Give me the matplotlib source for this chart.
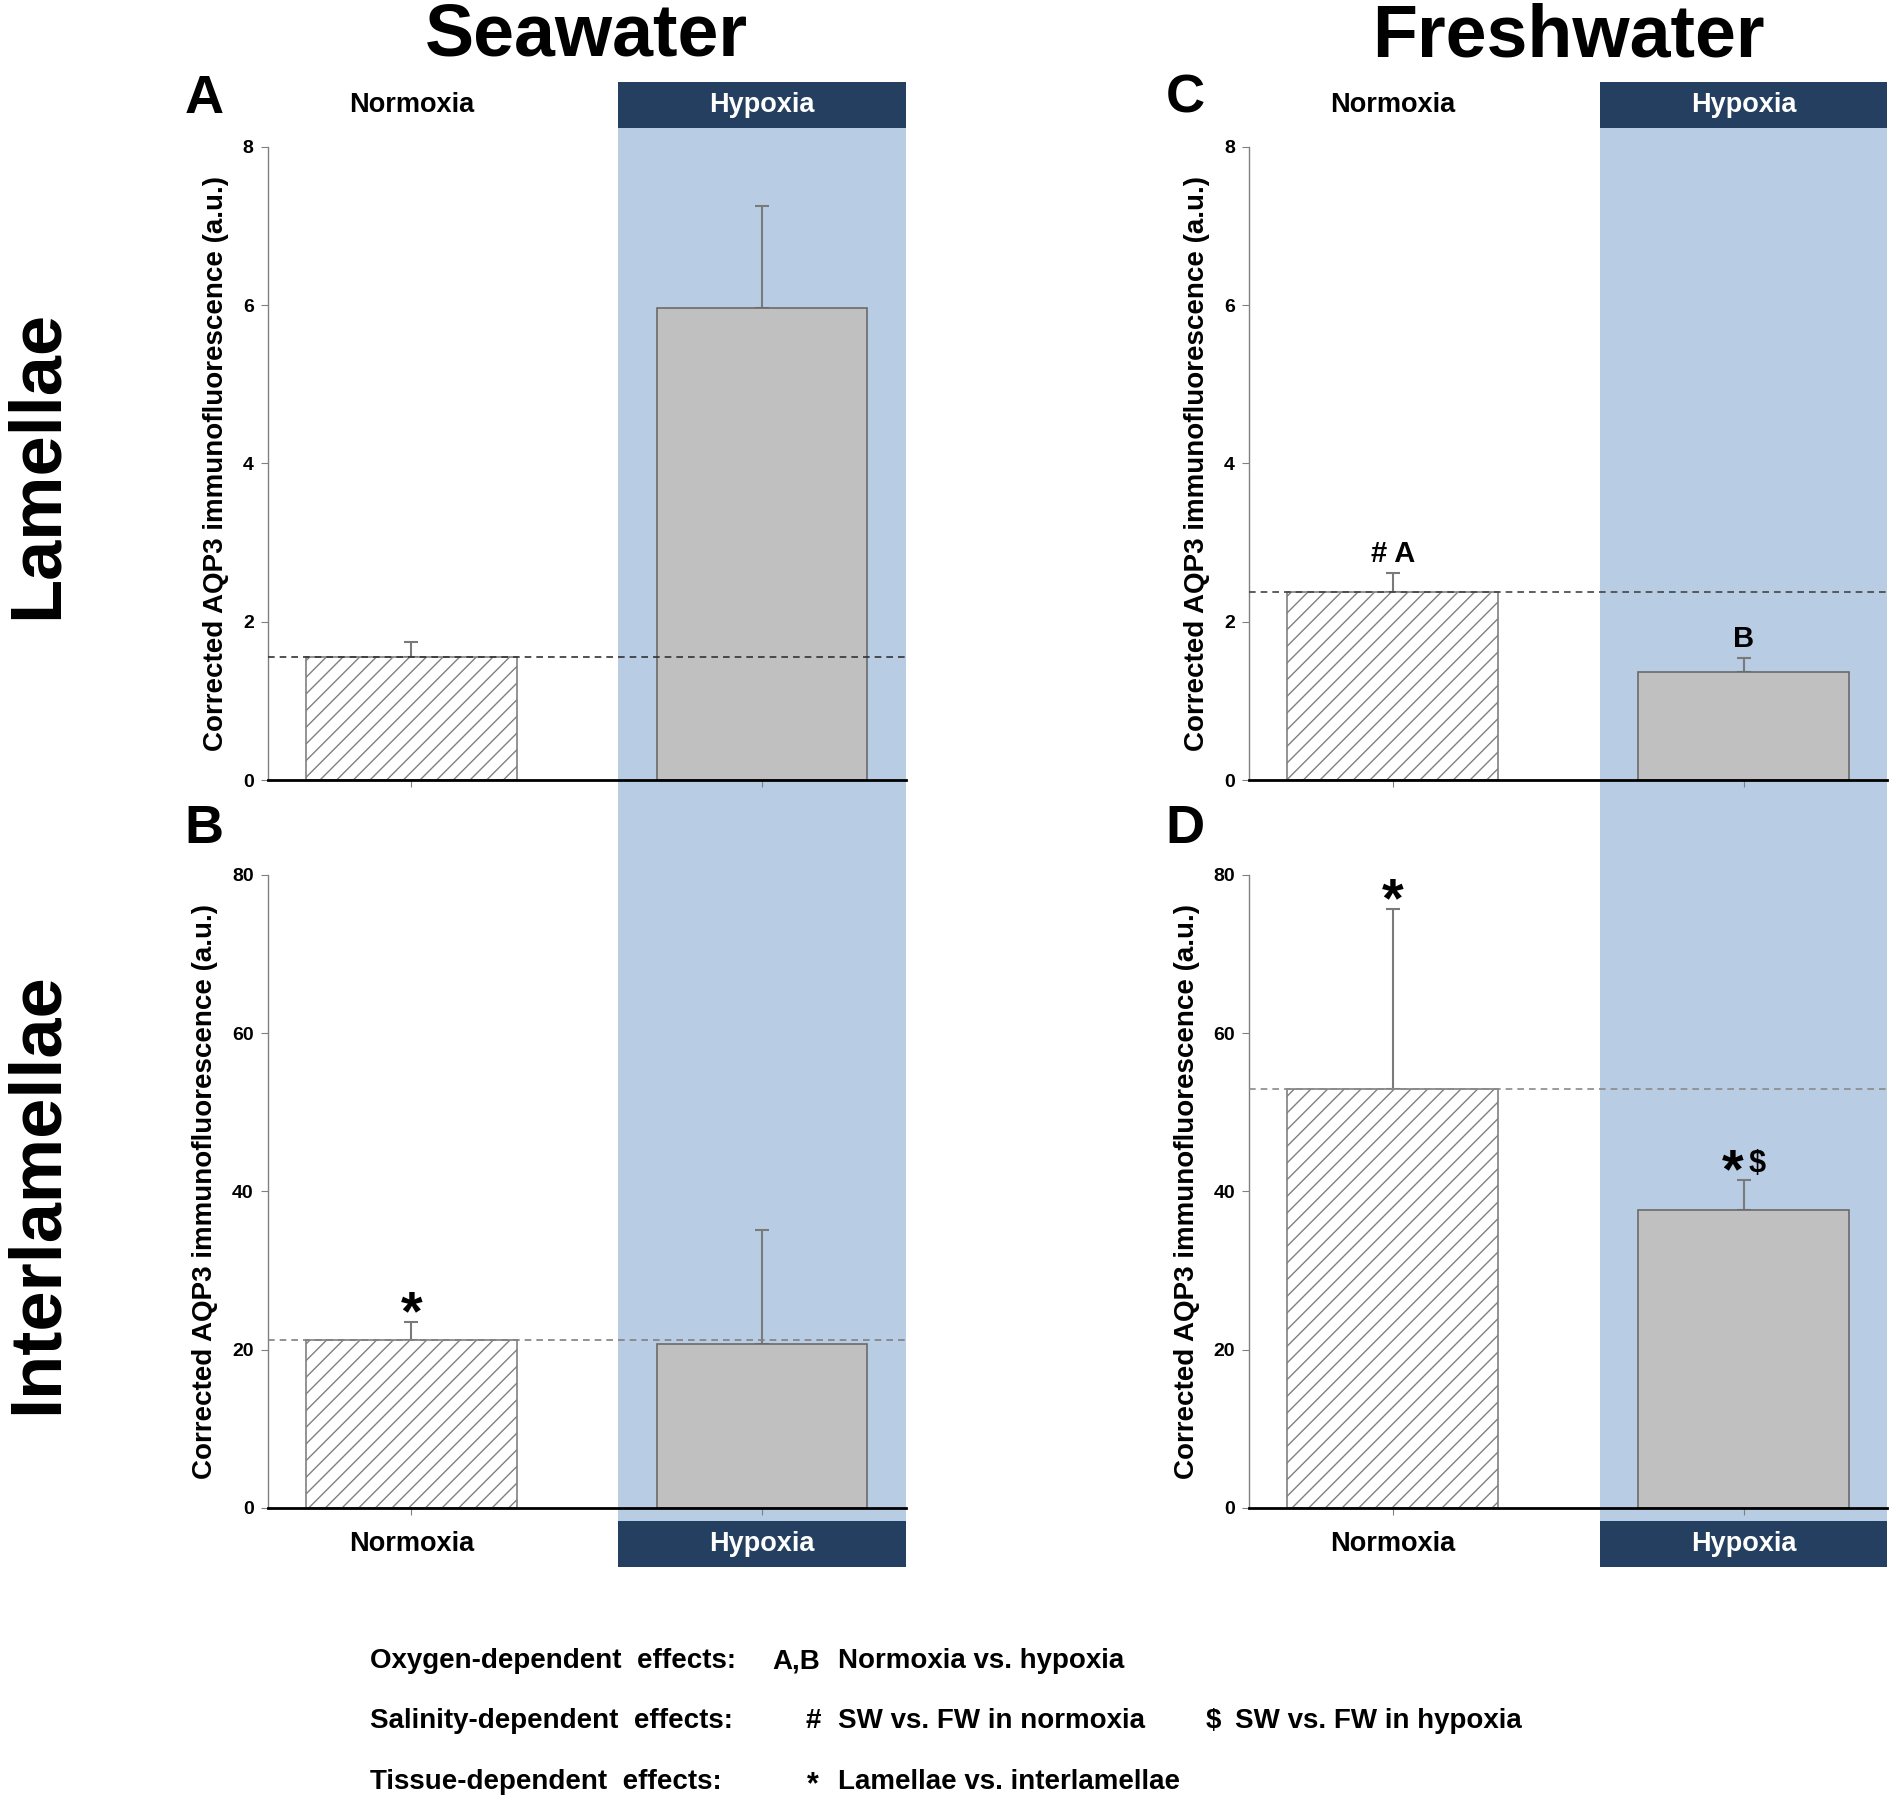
import numpy as np
import matplotlib.pyplot as plt
from matplotlib.patches import Rectangle
from matplotlib.transforms import blended_transform_factory

plt.rcParams['font.family'] = ['Liberation Sans', 'DejaVu Sans']
plt.rcParams['hatch.linewidth'] = 1.0

# data (mean and upper error)
conditions = ["Normoxia", "Hypoxia"]
sw_lam = [1.55, 5.97]
sw_lam_err = [0.20, 1.28]
fw_lam = [2.37, 1.36]
fw_lam_err = [0.24, 0.18]
sw_inter = [21.2, 20.7]
sw_inter_err = [2.3, 14.4]
fw_inter = [52.9, 37.6]
fw_inter_err = [22.8, 3.8]

lam_ticks = [0, 2, 4, 6, 8]
inter_ticks = [0, 20, 40, 60, 80]

# significance marks above each bar
sig_A = ["", ""]
sig_B = ["*", ""]
sig_C = ["# A", "B"]
sig_D = ["*", "* $"]

ylab = "Corrected AQP3 immunofluorescence (a.u.)"
shade_col = "#b8cce4"
head_col = "#243f60"
xmin, xmax, shade_x0 = -0.41, 1.41, 0.59

fig = plt.figure(figsize=(18.9, 18.01), dpi=100)

left_cols = [0.1416, 0.6608]
width = 0.3378
bottoms = [0.5669, 0.1627]
height = 0.3515


def put_star(ax, x, y, dx=0):
    # big asterisk, the glyph sits high so the baseline goes below the cap
    ax.annotate("*", (x, y), xytext=(dx, -5), textcoords='offset points',
                ha='center', va='baseline', fontsize=40, fontweight='bold')


def draw_panel(ax, means, errs, ticks, sig, dash_col):
    x = np.arange(len(means))
    ax.set_facecolor('none')
    ax.bar(x[0], means[0], width=0.6, color='white', edgecolor='#808080',
           hatch='//', linewidth=1.2, zorder=2)
    ax.bar(x[1], means[1], width=0.6, color='#c0c0c0', edgecolor='#6a6a6a',
           linewidth=1.2, zorder=2)
    ax.errorbar(x, means, yerr=[np.zeros(len(errs)), errs], fmt='none',
                ecolor='#7a7a7a', elinewidth=1.5, capsize=5, capthick=1.5, zorder=1)
    ax.axhline(means[0], color=dash_col, ls=(0, (4, 3)), lw=1.2, zorder=3)
    for xi, m, e, s in zip(x, means, errs, sig):
        top = m + e
        if s == "*":
            put_star(ax, xi, top)
        elif s == "* $":
            put_star(ax, xi, top, dx=-8)
            ax.annotate("$", (xi, top), xytext=(9.5, 6), textcoords='offset points',
                        ha='center', va='baseline', fontsize=22, fontweight='bold')
        elif s:
            ax.annotate(s, (xi, top), xytext=(0, 8), textcoords='offset points',
                        ha='center', va='baseline', fontsize=21, fontweight='bold')
    ax.set_xlim(xmin, xmax)
    ax.set_ylim(ticks[0], ticks[-1])
    ax.set_yticks(ticks)
    ax.set_xticks(x)
    ax.set_xticklabels([])
    for s in ['top', 'right']:
        ax.spines[s].set_visible(False)
    ax.spines['left'].set_color('#808080')
    ax.spines['left'].set_linewidth(1.0)
    ax.spines['bottom'].set_color('black')
    ax.spines['bottom'].set_linewidth(2.0)
    ax.tick_params(axis='y', length=5, color='#808080', labelsize=14, pad=5)
    ax.tick_params(axis='x', length=5, color='#808080')
    for lab in ax.get_yticklabels():
        lab.set_fontweight('bold')
    ax.set_ylabel(ylab, fontsize=20, fontweight='bold', labelpad=10)


panels = [
    (0, 0, sw_lam, sw_lam_err, lam_ticks, sig_A, "A", "#333333"),
    (0, 1, sw_inter, sw_inter_err, inter_ticks, sig_B, "B", "#808080"),
    (1, 0, fw_lam, fw_lam_err, lam_ticks, sig_C, "C", "#444444"),
    (1, 1, fw_inter, fw_inter_err, inter_ticks, sig_D, "D", "#8a8a8a"),
]

axes = {}
for col, row, means, errs, ticks, sig, letter, dash_col in panels:
    ax = fig.add_axes([left_cols[col], bottoms[row], width, height])
    draw_panel(ax, means, errs, ticks, sig, dash_col)
    axes[(col, row)] = ax
    fig.text(left_cols[col] - 0.0336, [0.9453, 0.5397][row], letter,
             fontsize=39, fontweight='bold', ha='center', va='center')

# hypoxia shading and header boxes, one per column
shade_bot, shade_top = 0.1555, 0.929
head_h = 0.0255
for col in range(2):
    ax = axes[(col, 0)]
    tr = blended_transform_factory(ax.transData, fig.transFigure)
    fig.add_artist(Rectangle((shade_x0, shade_bot), xmax - shade_x0, shade_top - shade_bot,
                             transform=tr, color=shade_col, zorder=-1, lw=0))
    for yb in [shade_top, shade_bot - head_h]:
        fig.add_artist(Rectangle((shade_x0, yb), xmax - shade_x0, head_h,
                                 transform=tr, color=head_col, zorder=-1, lw=0))
        yc = yb + head_h / 2
        fig.text(0, yc, conditions[0], transform=tr, ha='center', va='center',
                 fontsize=19.5, fontweight='bold')
        fig.text(1, yc, conditions[1], transform=tr, ha='center', va='center',
                 fontsize=19.5, fontweight='bold', color='white')

# column and row titles
for col, title in enumerate(["Seawater", "Freshwater"]):
    fig.text(left_cols[col] + width / 2, 0.9685, title, ha='center', va='baseline',
             fontsize=53, fontweight='bold')
fig.text(0.0300, 0.742, "Lamellae", rotation=90, rotation_mode='anchor',
         ha='center', va='baseline', fontsize=52, fontweight='bold')
fig.text(0.0300, 0.3375, "Interlamellae", rotation=90, rotation_mode='anchor',
         ha='center', va='baseline', fontsize=52, fontweight='bold')

# key for the significance marks
key_y = [0.0777, 0.0443, 0.0108]
kw = dict(fontsize=20, fontweight='bold', va='center')
fig.text(0.1958, key_y[0], "Oxygen-dependent  effects:", **kw)
fig.text(0.4088, key_y[0], "A,B", **kw)
fig.text(0.4433, key_y[0], "Normoxia vs. hypoxia", **kw)
fig.text(0.1958, key_y[1], "Salinity-dependent  effects:", **kw)
fig.text(0.426, key_y[1], "#", **kw)
fig.text(0.4433, key_y[1], "SW vs. FW in normoxia", **kw)
fig.text(0.6378, key_y[1], "$", **kw)
fig.text(0.6537, key_y[1], "SW vs. FW in hypoxia", **kw)
fig.text(0.1958, key_y[2], "Tissue-dependent  effects:", **kw)
fig.text(0.4298, 0.0043, "*", fontsize=22, fontweight='bold', ha='center', va='baseline')
fig.text(0.4433, key_y[2], "Lamellae vs. interlamellae", **kw)

fig.savefig("out.png", dpi=100)
